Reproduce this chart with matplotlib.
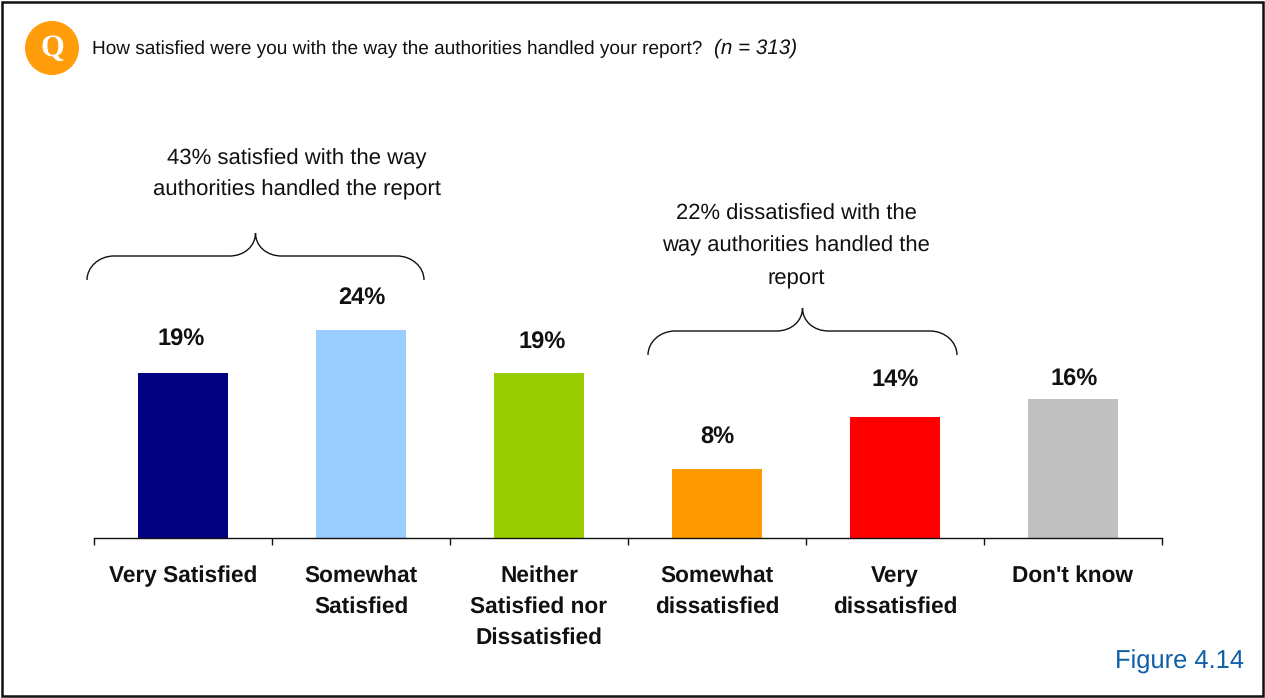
#!/usr/bin/env python3
# Satisfaction with how authorities handled a report: bar chart with brace callouts.

import matplotlib
matplotlib.use("Agg")
import matplotlib.pyplot as plt
from matplotlib.patches import Circle, PathPatch, Rectangle
from matplotlib.path import Path

W, H = 1265, 698

categories = [
    "Very Satisfied",
    "Somewhat\nSatisfied",
    "Neither\nSatisfied nor\nDissatisfied",
    "Somewhat\ndissatisfied",
    "Very\ndissatisfied",
    "Don't know",
]
values = [19, 24, 19, 8, 14, 16]
bar_colors = ["#000080", "#99ccff", "#99cc00", "#ff9900", "#ff0000", "#c0c0c0"]

# gap (in px) between each bar top and the centre of its label
label_gaps = [34, 33, 31, 31, 37, 20]
label_shift = [-2, 1, 3, 0, 0, 1]

question = "How satisfied were you with the way the authorities handled your report?"
sample = "(n = 313)"
note_left = "43% satisfied with the way\nauthorities handled the report"
note_right = "22% dissatisfied with the\nway authorities handled the\nreport"
figure_tag = "Figure 4.14"

plt.rcParams["font.family"] = ["Liberation Sans", "DejaVu Sans"]
plt.rcParams["text.hinting"] = "no_hinting"
TXT = "#111111"

fig = plt.figure(figsize=(W / 100, H / 100), dpi=100, facecolor="white")

# overlay in pixel coordinates for frame, badge, braces and notes
over = fig.add_axes([0, 0, 1, 1])
over.set_xlim(0, W)
over.set_ylim(H, 0)
over.axis("off")


def brace(x0, x1, tip_y, mid_y, end_y):
    """Curly brace opening downward, tip in the middle."""
    xm = (x0 + x1) / 2
    verts = [
        (x0, end_y),
        (x0, mid_y + 11), (x0 + 12, mid_y), (x0 + 27, mid_y),
        (xm - 26, mid_y),
        (xm - 11, mid_y), (xm, mid_y - 10), (xm, tip_y),
        (xm, mid_y - 10), (xm + 11, mid_y), (xm + 26, mid_y),
        (x1 - 27, mid_y),
        (x1 - 12, mid_y), (x1, mid_y + 11), (x1, end_y),
    ]
    codes = [Path.MOVETO,
             Path.CURVE4, Path.CURVE4, Path.CURVE4,
             Path.LINETO,
             Path.CURVE4, Path.CURVE4, Path.CURVE4,
             Path.CURVE4, Path.CURVE4, Path.CURVE4,
             Path.LINETO,
             Path.CURVE4, Path.CURVE4, Path.CURVE4]
    over.add_patch(PathPatch(Path(verts, codes), fc="none", ec="#111111", lw=1.0))


# outer frame
over.add_patch(Rectangle((2, 2), W - 4, H - 4, fc="none", ec="#111111", lw=1.8))

# question badge and heading
over.add_patch(Circle((52, 48), 27, fc="#ff9d0a", ec="none"))
over.text(52, 49, "Q", family="Liberation Serif", fontweight="bold", color="white",
          fontsize=22, ha="center", va="center")
over.text(92, 49, question, fontsize=13.7, color=TXT, ha="left", va="center")
over.text(714, 48, sample, fontsize=14.9, color=TXT, style="italic", ha="left", va="center")

brace(87, 424, 233, 256, 280)
brace(648, 957, 308, 331, 355)
over.text(297, 174, note_left, fontsize=15.9, color=TXT, ha="center", va="center",
          linespacing=1.68)
over.text(796, 246, note_right, fontsize=15.8, color=TXT, ha="center", va="center",
          linespacing=1.73)
over.text(1244, 662, figure_tag, fontsize=18.4, color="#0f5fa8", ha="right", va="center")

# bar chart: baseline at y=538 px, 8.66 px per percentage point
ax_top = 138
ax = fig.add_axes([94 / W, 1 - 538 / H, (1162 - 94) / W, (538 - ax_top) / H])
ax.patch.set_alpha(0)
ax.set_xlim(-0.5, 5.5)
ax.set_ylim(0, (538 - ax_top) / 8.66)
xs = list(range(len(values)))
ax.bar(xs, values, width=0.505, color=bar_colors)

for x, v, gap, dx in zip(xs, values, label_gaps, label_shift):
    ax.annotate(f"{v}%", (x, v), xytext=(dx * 0.72, gap * 0.72), textcoords="offset points",
                ha="center", va="center", fontsize=17, fontweight="bold", color=TXT)

for side in ("top", "left", "right"):
    ax.spines[side].set_visible(False)
ax.spines["bottom"].set_color("#111111")
ax.spines["bottom"].set_linewidth(1.0)
ax.set_yticks([])
ax.set_xticks([i - 0.5 for i in range(7)])
ax.set_xticklabels([])
ax.tick_params(axis="x", which="major", length=5.2, width=1.0, color="#111111")
ax.set_xticks(xs, minor=True)
ax.set_xticklabels(categories, minor=True, fontsize=16.3, fontweight="bold", color=TXT,
                   linespacing=1.56)
ax.tick_params(axis="x", which="minor", length=0, pad=19.5)

fig.savefig("out.png", dpi=100)
